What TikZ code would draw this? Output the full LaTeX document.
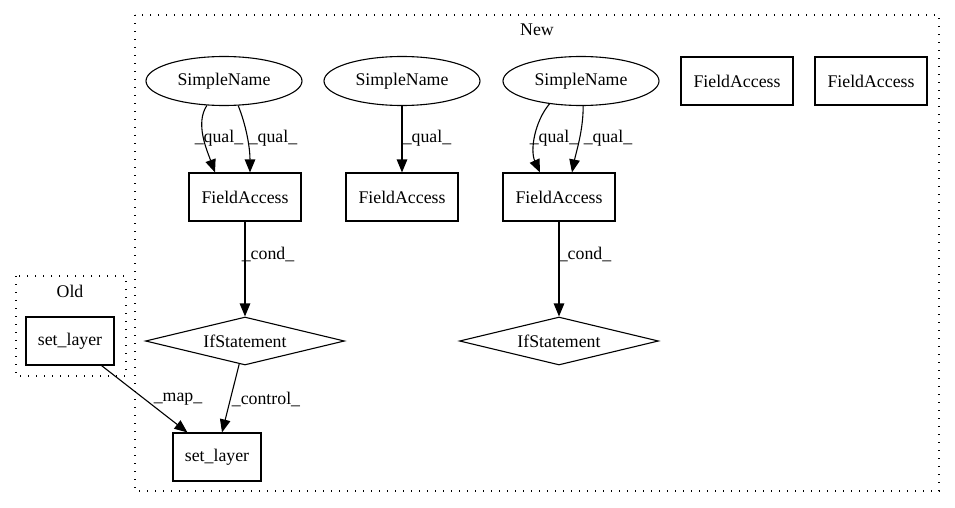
\documentclass[tikz,border=0pt]{standalone}
\usepackage{fontspec}
\setmainfont{Liberation Serif}
\usetikzlibrary{shapes.geometric,arrows.meta,calc}
\begin{document}
\begin{tikzpicture}[x=1pt,y=-1pt,
  font=\fontsize{17.8}{20}\selectfont,
  box/.style={draw,line width=1.1pt,rectangle,inner sep=0pt,minimum height=48pt},
  fa/.style={box,minimum width=112pt},
  sl/.style={box,minimum width=88pt},
  sn/.style={draw,line width=1.1pt,ellipse,inner sep=0pt,minimum width=156pt,minimum height=49pt},
  ifs/.style={draw,line width=1.1pt,diamond,inner sep=0pt,shape aspect=4.1,minimum width=199pt,minimum height=48pt},
  arr/.style={-{Triangle[length=13pt,width=10.5pt]},line width=1.1pt},
  lbl/.style={inner sep=0pt},
  clus/.style={line width=1.2pt,dash pattern=on 1.4pt off 6.6pt}]
\useasboundingbox (0,0) rectangle (955,508);
% clusters
\draw[clus] (135,15) rectangle (939,491);
\node[lbl] (newlbl) at (537,30) {New};
\draw[clus] (16,276) rectangle (126,376);
\node[lbl] (oldlbl) at (70,291) {Old};
% nodes
\node[sl] (sl1) at (70,341) {set\_layer};
\node[sl] (sl2) at (217,457) {set\_layer};
\node[sn] (sn1) at (224,81) {SimpleName};
\node[sn] (sn2) at (402,81) {SimpleName};
\node[sn] (sn3) at (581,81) {SimpleName};
\node[fa] (fa1) at (245,197) {FieldAccess};
\node[fa] (fa2) at (402,197) {FieldAccess};
\node[fa] (fa3) at (559,197) {FieldAccess};
\node[fa] (fa4) at (737,81) {FieldAccess};
\node[fa] (fa5) at (871,81) {FieldAccess};
\node[ifs] (if1) at (245,341) {IfStatement};
\node[ifs] (if2) at (559,341) {IfStatement};
% edges
\draw[arr] (sn1.235) .. controls +(-12,18) and +(-8,-22) .. ($(fa1.north)+(-30,0)$);
\draw[arr] (sn1.300) .. controls +(8,20) and +(0,-25) .. ($(fa1.north)+(5,0)$);
\draw[arr] (sn2) -- (fa2);
\draw[arr] (sn3.216) .. controls +(-15,18) and +(-10,-22) .. ($(fa3.north)+(-19,0)$);
\draw[arr] (sn3.275) .. controls +(0,25) and +(4,-20) .. ($(fa3.north)+(13,0)$);
\draw[arr] (fa1) -- (if1);
\draw[arr] (fa3) -- (if2);
\draw[arr] (if1) -- ($(sl2.north)+(5,0)$);
\draw[arr] (sl1) -- ($(sl2.north west)+(15,0)$);
% labels
\node[lbl] (q1) at (219,138) {\_qual\_};
\node[lbl] (q2) at (273,138) {\_qual\_};
\node[lbl] (q3) at (427,138) {\_qual\_};
\node[lbl] (q4) at (554,138) {\_qual\_};
\node[lbl] (q5) at (608,138) {\_qual\_};
\node[lbl] (c1) at (268,254) {\_cond\_};
\node[lbl] (c2) at (585,254) {\_cond\_};
\node[lbl] (ct) at (266,399) {\_control\_};
\node[lbl] (mp) at (178,399) {\_map\_};
\end{tikzpicture}
\end{document}
